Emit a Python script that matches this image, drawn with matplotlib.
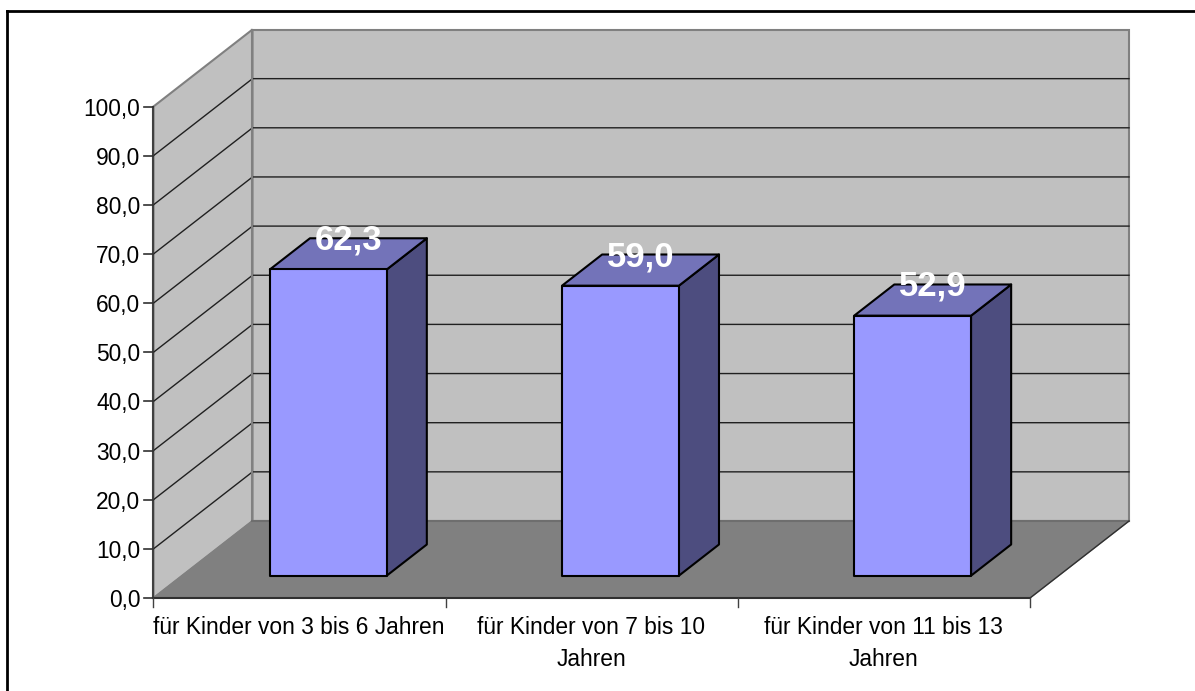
import matplotlib
matplotlib.use('Agg')
import matplotlib.pyplot as plt
from matplotlib.patches import Polygon

categories = ['für Kinder von 3 bis 6 Jahren', 'für Kinder von 7 bis 10\nJahren', 'für Kinder von 11 bis 13\nJahren']
values = [62.3, 59.0, 52.9]
value_labels = ['62,3', '59,0', '52,9']
y_ticks = [0, 10, 20, 30, 40, 50, 60, 70, 80, 90, 100]

# pixel layout of the fake 3d box
X0, Y0 = 153.5, 598
PX_W = 876.5
PX_H = 491.5
DEPTH_X, DEPTH_Y = 99, -77
BAR_FRAC = 0.4  # bar width / category width
BAR_D0, BAR_D1 = 0.29, 0.695


def proj(cat, val, depth=0.0):
    """cat in category units, val in data units, depth 0 (front) .. 1 (back)"""
    x = X0 + cat / len(categories) * PX_W + depth * DEPTH_X
    y = Y0 - val / 100 * PX_H + depth * DEPTH_Y
    return x, y


plt.rcParams['font.family'] = ['Liberation Sans', 'DejaVu Sans']
fig = plt.figure(figsize=(11.95, 6.91), dpi=100)
ax = fig.add_axes([0, 0, 1, 1])
ax.set_xlim(0, 1195)
ax.set_ylim(691, 0)
ax.axis('off')

n = len(categories)
# walls and floor
ax.add_patch(Polygon([proj(0, 0, 1), proj(n, 0, 1), proj(n, 100, 1), proj(0, 100, 1)],
                     fc='#c0c0c0', ec='#808080', lw=1.5, zorder=1))
ax.add_patch(Polygon([proj(0, 0), proj(0, 0, 1), proj(0, 100, 1), proj(0, 100)],
                     fc='#c0c0c0', ec='#808080', lw=1.5, zorder=1))
ax.add_patch(Polygon([proj(0, 0), proj(n, 0), proj(n, 0, 1), proj(0, 0, 1)],
                     fc='#808080', ec='#808080', lw=1, zorder=2))

# gridlines
for v in y_ticks[1:-1]:
    pts = [proj(0, v), proj(0, v, 1), proj(n, v, 1)]
    ax.plot([p[0] for p in pts], [p[1] for p in pts], color='#202020', lw=1, zorder=3)
ax.plot(*zip(proj(0, 0, 1), proj(0, 100, 1)), color='#808080', lw=1.5, zorder=3)
ax.plot(*zip(proj(0, 0, 1), proj(n, 0, 1)), color='#6e6e6e', lw=1.5, zorder=3)
ax.plot(*zip(proj(n, 0), proj(n, 0, 1)), color='#303030', lw=1, zorder=3)

# axes lines and ticks
ax.plot(*zip(proj(0, 0), proj(0, 100)), color='#404040', lw=1.5, zorder=4)
ax.plot(*zip(proj(0, 0), proj(n, 0)), color='#303030', lw=1.5, zorder=4)
for v in y_ticks:
    x, y = proj(0, v)
    ax.plot([x - 9, x], [y, y], color='#303030', lw=1.2, zorder=4)
    ax.text(x - 13, y, f'{v:.1f}'.replace('.', ','), ha='right', va='center_baseline', fontsize=16.4, color='black')
for i in range(n + 1):
    x, y = proj(i, 0)
    ax.plot([x, x], [y, y + 9], color='#404040', lw=1, zorder=4)

# bars
for i, (val, lab) in enumerate(zip(values, value_labels)):
    c0 = i + (1 - BAR_FRAC) / 2
    c1 = c0 + BAR_FRAC
    front = [proj(c0, 0, BAR_D0), proj(c1, 0, BAR_D0), proj(c1, val, BAR_D0), proj(c0, val, BAR_D0)]
    side = [proj(c1, 0, BAR_D0), proj(c1, 0, BAR_D1), proj(c1, val, BAR_D1), proj(c1, val, BAR_D0)]
    top = [proj(c0, val, BAR_D0), proj(c1, val, BAR_D0), proj(c1, val, BAR_D1), proj(c0, val, BAR_D1)]
    ax.add_patch(Polygon(side, fc='#4d4d7f', ec='black', lw=1.5, joinstyle='round', zorder=5))
    ax.add_patch(Polygon(top, fc='#7373b9', ec='black', lw=1.5, joinstyle='round', zorder=5))
    ax.add_patch(Polygon(front, fc='#9999ff', ec='black', lw=1.5, joinstyle='round', zorder=6))
    lx = proj(i + 0.5, val, 0.49)[0]
    ly = proj(i + 0.5, val, BAR_D1)[1]
    ax.text(lx, ly + 2, lab, ha='center', va='center', fontsize=25, fontweight='bold', color='white', zorder=7)

# category labels
for i, cat in enumerate(categories):
    x, y = proj(i + 0.5, 0)
    ax.text(x - 0.5, y + 18.5, cat, ha='center', va='top', fontsize=16.4, color='black', linespacing=1.47)

# outer frame
ax.plot([7, 7], [691, 11], color='black', lw=2, zorder=8)
ax.plot([7, 1195], [11, 11], color='black', lw=2, zorder=8)

fig.savefig('out.png', dpi=100)
plt.close(fig)
